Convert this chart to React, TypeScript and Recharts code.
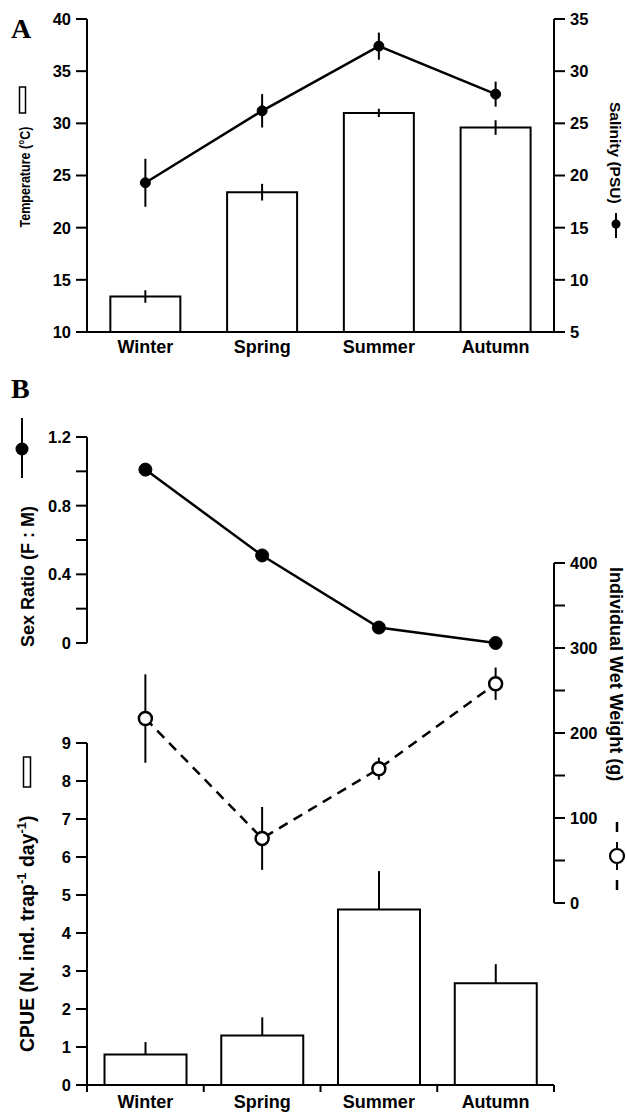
import React from 'react';
import { ComposedChart, Bar, Line, XAxis, YAxis, ErrorBar, Label } from 'recharts';

const seasons = ['Winter', 'Spring', 'Summer', 'Autumn'];
const temperature = [13.4, 23.4, 31.0, 29.6];
const temperatureErr = [0.6, 0.8, 0.4, 0.7];
const salinity = [19.3, 26.2, 32.4, 27.8];
const salinityErr = [2.3, 1.6, 1.3, 1.2];
const sexRatio = [1.01, 0.51, 0.09, 0.0];
const wetWeight = [217, 76, 158, 258];
const wetWeightErr = [52, 37, 13, 19];
const cpue = [0.8, 1.3, 4.62, 2.68];
const cpueErr = [0.33, 0.48, 1.01, 0.5];

const tempTicks = [10, 15, 20, 25, 30, 35, 40];
const salTicks = [5, 10, 15, 20, 25, 30, 35];
const sexTicks = [0, 0.2, 0.4, 0.6, 0.8, 1.0, 1.2];
const sexLabeled = [0, 0.4, 0.8, 1.2];
const weightTicks = [0, 50, 100, 150, 200, 250, 300, 350, 400];
const weightLabeled = [0, 100, 200, 300, 400];
const cpueTicks = [0, 1, 2, 3, 4, 5, 6, 7, 8, 9];

const dataA = seasons.map((s, i) => ({
  season: s,
  temp: temperature[i],
  tempErr: temperatureErr[i],
  sal: salinity[i],
  salErr: salinityErr[i],
}));
const dataB = seasons.map((s, i) => ({
  season: s,
  sex: sexRatio[i],
  weight: wetWeight[i],
  weightErr: wetWeightErr[i],
  cpue: cpue[i],
  cpueErr: [0, cpueErr[i]],
}));

const FONT = '"Liberation Sans", Arial, sans-serif';
const tickStyle = { fill: '#000', fontSize: 16.5, fontWeight: 'bold', fontFamily: FONT };
const catStyle = { fill: '#000', fontSize: 18, fontWeight: 'bold', fontFamily: FONT };
const axisStroke = { stroke: '#000', strokeWidth: 2 };

const TempLabel = () => (
  <g>
    <text x={30} y={177} transform="rotate(-90, 30, 177)" textAnchor="middle" fontSize={15.5} fontWeight="bold" fontFamily={FONT} fill="#000" textLength={101} lengthAdjust="spacingAndGlyphs">
      Temperature (°C)
    </text>
    <rect x={19.5} y={87} width={6} height={26} fill="#fff" stroke="#000" strokeWidth={1.5} />
  </g>
);

const SalLabel = () => (
  <g>
    <text x={610} y={102} transform="rotate(90, 610, 102)" textAnchor="start" fontSize={15.5} fontWeight="bold" fontFamily={FONT} fill="#000">
      Salinity (PSU)
    </text>
    <line x1={616} x2={616} y1={213} y2={238} stroke="#000" strokeWidth={2} />
    <circle cx={616} cy={224} r={4.5} fill="#000" />
  </g>
);

const SexLabel = () => (
  <g>
    <text x={34} y={647} transform="rotate(-90, 34, 647)" textAnchor="start" fontSize={18} fontWeight="bold" fontFamily={FONT} fill="#000">
      Sex Ratio (F : M)
    </text>
    <line x1={22} x2={22} y1={418} y2={478} stroke="#000" strokeWidth={2} />
    <circle cx={22} cy={449} r={6.5} fill="#000" />
  </g>
);

const WeightLabel = () => (
  <g>
    <text x={610} y={567} transform="rotate(90, 610, 567)" textAnchor="start" fontSize={18} fontWeight="bold" fontFamily={FONT} fill="#000">
      Individual Wet Weight (g)
    </text>
    <line x1={617} x2={617} y1={822} y2={832} stroke="#000" strokeWidth={2.5} />
    <line x1={617} x2={617} y1={842} y2={848} stroke="#000" strokeWidth={2} />
    <circle cx={617} cy={856} r={7} fill="#fff" stroke="#000" strokeWidth={2.2} />
    <line x1={617} x2={617} y1={864} y2={870} stroke="#000" strokeWidth={2} />
    <line x1={617} x2={617} y1={880} y2={890} stroke="#000" strokeWidth={2.5} />
  </g>
);

const CpueLabel = () => (
  <g>
    <text x={34} y={1052} transform="rotate(-90, 34, 1052)" textAnchor="start" fontSize={19.5} fontWeight="bold" fontFamily={FONT} fill="#000">
      CPUE (N. ind. trap<tspan fontSize={13} dy={-8}>-1</tspan>
      <tspan dy={8}> day</tspan>
      <tspan fontSize={13} dy={-8}>-1</tspan>
      <tspan dy={8}>)</tspan>
    </text>
    <rect x={23.5} y={757} width={7} height={30} fill="#fff" stroke="#000" strokeWidth={1.5} />
  </g>
);

const BoundaryTick = (props: any) => {
  const { x, y, payload, index } = props;
  const half = payload && payload.offset ? payload.offset : 58.375;
  const isLast = index === seasons.length - 1;
  return (
    <g>
      <line x1={x - half} x2={x - half} y1={y - 8} y2={y - 1} stroke="#000" strokeWidth={2} />
      {isLast && <line x1={x + half} x2={x + half} y1={y - 8} y2={y - 1} stroke="#000" strokeWidth={2} />}
      <text x={x} y={y + 15} textAnchor="middle" {...catStyle}>
        {payload.value}
      </text>
    </g>
  );
};

const abs: React.CSSProperties = { position: 'absolute', left: 0, top: 0 };

export default function App() {
  return (
    <div style={{ position: 'absolute', left: 0, top: 0, width: 627, height: 1114, background: '#fff' }}>
      {/* Panel A */}
      <div style={abs}>
        <ComposedChart width={627} height={370} data={dataA} margin={{ top: 19, right: 0, bottom: 8, left: 0 }} barCategoryGap="20%">
          <XAxis dataKey="season" xAxisId="x" tickLine={false} axisLine={axisStroke} tick={catStyle} height={30} tickMargin={2} interval={0} />
          <YAxis yAxisId="temp" orientation="left" width={87} domain={[10, 40]} ticks={tempTicks} axisLine={axisStroke} tickLine={axisStroke} tickSize={11} tickMargin={5} tick={tickStyle} interval={0}>
            <Label content={<TempLabel />} />
          </YAxis>
          <YAxis yAxisId="sal" orientation="right" width={73} domain={[5, 35]} ticks={salTicks} axisLine={axisStroke} tickLine={axisStroke} tickSize={11} tickMargin={5} tick={tickStyle} interval={0}>
            <Label content={<SalLabel />} />
          </YAxis>
          <Bar dataKey="temp" xAxisId="x" yAxisId="temp" fill="#fff" stroke="#000" strokeWidth={2} isAnimationActive={false}>
            <ErrorBar dataKey="tempErr" width={0} stroke="#000" strokeWidth={2} direction="y" />
          </Bar>
          <Line dataKey="sal" xAxisId="x" yAxisId="sal" stroke="#000" strokeWidth={2.5} dot={{ r: 5, fill: '#000', stroke: '#000', strokeWidth: 1 }} isAnimationActive={false}>
            <ErrorBar dataKey="salErr" width={0} stroke="#000" strokeWidth={2} direction="y" />
          </Line>
        </ComposedChart>
      </div>

      {/* Panel B: sex ratio */}
      <div style={abs}>
        <ComposedChart width={627} height={700} data={dataB} margin={{ top: 437, right: 73, bottom: 57, left: 0 }}>
          <XAxis dataKey="season" xAxisId="x" scale="band" hide />
          <YAxis yAxisId="sex" orientation="left" width={87} domain={[0, 1.2]} ticks={sexTicks} axisLine={axisStroke} tickLine={axisStroke} tickSize={11} tickMargin={5} tick={tickStyle} interval={0}
            tickFormatter={(v: number) => (sexLabeled.some((t) => Math.abs(t - v) < 1e-9) ? String(v) : '')}>
            <Label content={<SexLabel />} />
          </YAxis>
          <Line dataKey="sex" xAxisId="x" yAxisId="sex" stroke="#000" strokeWidth={2.5} dot={{ r: 6.5, fill: '#000', stroke: '#000', strokeWidth: 1 }} isAnimationActive={false} />
        </ComposedChart>
      </div>

      {/* Panel B: wet weight */}
      <div style={abs}>
        <ComposedChart width={627} height={950} data={dataB} margin={{ top: 563, right: 0, bottom: 47, left: 87 }}>
          <XAxis dataKey="season" xAxisId="x" scale="band" hide />
          <YAxis yAxisId="w" orientation="right" width={73} domain={[0, 400]} ticks={weightTicks} axisLine={axisStroke} tickLine={axisStroke} tickSize={11} tickMargin={5} tick={tickStyle} interval={0}
            tickFormatter={(v: number) => (weightLabeled.includes(v) ? String(v) : '')}>
            <Label content={<WeightLabel />} />
          </YAxis>
          <Line dataKey="weight" xAxisId="x" yAxisId="w" stroke="#000" strokeWidth={2.5} strokeDasharray="10 7" dot={{ r: 6.5, fill: '#fff', stroke: '#000', strokeWidth: 2.5, strokeDasharray: '' }} isAnimationActive={false}>
            <ErrorBar dataKey="weightErr" width={0} stroke="#000" strokeWidth={2} direction="y" />
          </Line>
        </ComposedChart>
      </div>

      {/* Panel B: CPUE */}
      <div style={abs}>
        <ComposedChart width={627} height={1114} data={dataB} margin={{ top: 743, right: 73, bottom: 0, left: 0 }} barCategoryGap="15%">
          <XAxis dataKey="season" xAxisId="x" tickLine={false} axisLine={axisStroke} tick={<BoundaryTick />} height={29} interval={0} />
          <YAxis yAxisId="c" orientation="left" width={87} domain={[0, 9]} ticks={cpueTicks} axisLine={axisStroke} tickLine={axisStroke} tickSize={11} tickMargin={5} tick={tickStyle} interval={0}>
            <Label content={<CpueLabel />} />
          </YAxis>
          <Bar dataKey="cpue" xAxisId="x" yAxisId="c" fill="#fff" stroke="#000" strokeWidth={2} isAnimationActive={false}>
            <ErrorBar dataKey="cpueErr" width={0} stroke="#000" strokeWidth={2} direction="y" />
          </Bar>
        </ComposedChart>
      </div>

      {/* Panel letters */}
      <svg style={abs} width={627} height={1114} pointerEvents="none">
        <text x={11} y={38} fontSize={28} fontWeight="bold" fontFamily='"Liberation Serif", "Times New Roman", serif' fill="#000">A</text>
        <text x={11} y={398} fontSize={28} fontWeight="bold" fontFamily='"Liberation Serif", "Times New Roman", serif' fill="#000">B</text>
      </svg>
    </div>
  );
}
